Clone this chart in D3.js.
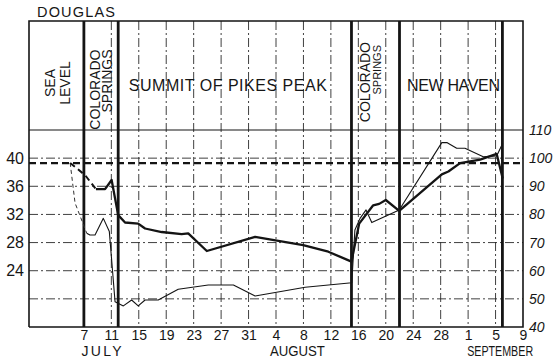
<!DOCTYPE html>
<html><head><meta charset="utf-8">
<script src="https://cdn.jsdelivr.net/npm/d3@7"></script>
<style>
html,body{margin:0;padding:0;background:#fff;}
svg{display:block;}
text{font-family:"Liberation Sans",Arial,sans-serif;fill:#161616;}
</style>
</head><body>
<svg id="chart" width="553" height="357"></svg>
<script>
// ---------------- DATA ----------------
const YEAR = 1911;
const title = "DOUGLAS";
const dateDomain = ["06-29 00", "09-09 00"];
const leftTicks = [24, 28, 32, 36, 40];
const leftDomain = [16, 44];
const rightTicks = [40, 50, 60, 70, 80, 90, 100, 110];
const rightDomain = [40, 110];
const gridRight = [50, 60, 70, 80, 90, 100];
const normalLevel = 98.2; // heavy dashed reference (right scale)

const tickDates = ["07-07 00","07-11 00","07-15 00","07-19 00","07-23 00","07-27 00","07-31 00",
  "08-04 00","08-08 00","08-12 00","08-16 00","08-20 00","08-24 00","08-28 00",
  "09-01 00","09-05 00","09-09 00"];
const tickLabels = ["7","11","15","19","23","27","31","4","8","12","16","20","24","28","1","5","9"];
const monthNames = ["JULY", "AUGUST", "SEPTEMBER"];
const monthAnchors = ["07-09 14", "08-07 03", "09-05 16"];

const regionBounds = ["06-29 00","07-07 00","07-12 00","08-15 00","08-22 00","09-06 00","09-09 00"];
const regionNames = ["SEA LEVEL", "COLORADO SPRINGS", "SUMMIT OF PIKES PEAK", "COLORADO SPRINGS", "NEW HAVEN"];

// heavy line (left scale)
const heavyDashedDates = ["07-05 00","07-07 04","07-08 18"];
const heavyDashedValues = [39.3, 37.6, 35.6];
const heavyDates = ["07-08 18","07-10 02","07-11 01","07-12 00","07-13 00","07-14 22","07-15 22",
  "07-18 08","07-21 06","07-22 05","07-24 22","07-31 23","08-07 23","08-11 15","08-15 00",
  "08-16 03","08-18 04","08-19 01","08-20 00","08-21 23","08-28 04","08-29 03","08-30 20",
  "09-02 18","09-05 04","09-06 01"];
const heavyValues = [35.6, 35.6, 36.9, 31.9, 30.85, 30.7, 30.0,
  29.5, 29.2, 29.3, 26.8, 28.8, 27.65, 26.7, 25.3,
  30.7, 33.3, 33.5, 34.05, 32.5, 37.7, 38.1, 39.3,
  39.8, 40.6, 37.1];

// thin line (right scale)
const thinDashedDates = ["07-05 00","07-05 17","07-07 10"];
const thinDashedValues = [98.3, 84.1, 73.3];
const thinDates = ["07-07 10","07-07 21","07-08 15","07-09 20","07-10 17","07-11 13","07-12 18",
  "07-13 23","07-14 22","07-15 22","07-17 20","07-20 18","07-25 03","07-28 19","07-31 23",
  "08-08 06","08-15 01","08-15 12","08-16 06","08-17 03","08-17 23","08-21 23","08-28 04",
  "08-28 23","08-30 08","08-31 13","09-03 05","09-05 04","09-06 01"];
const thinValues = [73.3, 72.7, 72.7, 78.6, 73.9, 49.0, 47.5,
  49.6, 47.5, 49.6, 49.6, 53.4, 54.9, 54.9, 51.0,
  54.1, 55.7, 74.5, 78.6, 81.6, 77.1, 81.6, 105.5,
  105.5, 103.5, 103.5, 100.5, 100.8, 105.3];

// ---------------- LAYOUT ----------------
const L = 29, R = 523, TOP = 21, PT = 130, B = 327;
const ink = "#141414";
const FONT = "Liberation Sans, Arial, sans-serif";
const parse = s => d3.timeParse("%Y-%m-%d %H")(`${YEAR}-${s}`);

const svg = d3.select("#chart");
svg.append("rect").attr("width", 553).attr("height", 357).attr("fill", "#fff");

const x = d3.scaleTime().domain(dateDomain.map(parse)).range([L, R]);
const yL = d3.scaleLinear().domain(leftDomain).range([B, PT]);
const yR = d3.scaleLinear().domain(rightDomain).range([B, PT]);

const grid = svg.append("g").attr("stroke", "#2a2a2a").attr("stroke-width", 0.9)
  .attr("stroke-dasharray", "9,3,2,3").attr("fill", "none");
grid.selectAll("line.v").data(tickDates.slice(1, -1)).join("line")
  .attr("x1", d => x(parse(d))).attr("x2", d => x(parse(d)))
  .attr("y1", TOP).attr("y2", B);
grid.selectAll("line.h").data(gridRight).join("line")
  .attr("x1", L).attr("x2", R)
  .attr("y1", d => yR(d)).attr("y2", d => yR(d));

svg.append("line").attr("x1", L).attr("x2", R)
  .attr("y1", yR(normalLevel)).attr("y2", yR(normalLevel))
  .attr("stroke", ink).attr("stroke-width", 2.2).attr("stroke-dasharray", "7,4");

const frame = svg.append("g").attr("stroke", ink).attr("fill", "none");
frame.append("path").attr("d", `M${L},${B}V${TOP}H${R}V${B}H${L}`).attr("stroke-width", 1.6);
frame.append("line").attr("x1", L).attr("x2", R).attr("y1", PT).attr("y2", PT).attr("stroke-width", 1.2);
frame.selectAll("line.r").data(regionBounds.slice(1, -1)).join("line")
  .attr("x1", d => x(parse(d))).attr("x2", d => x(parse(d)))
  .attr("y1", TOP).attr("y2", B).attr("stroke-width", 2.8);

const lineL = d3.line().x(d => x(d[0])).y(d => yL(d[1]));
const lineR = d3.line().x(d => x(d[0])).y(d => yR(d[1]));
const zipd = (ds, vs) => ds.map((d, i) => [parse(d), vs[i]]);

svg.append("path").datum(zipd(thinDashedDates, thinDashedValues)).attr("d", lineR)
  .attr("fill", "none").attr("stroke", "#333").attr("stroke-width", 1).attr("stroke-dasharray", "4,3");
svg.append("path").datum(zipd(thinDates, thinValues)).attr("d", lineR)
  .attr("fill", "none").attr("stroke", ink).attr("stroke-width", 1.1).attr("stroke-linejoin", "round");
svg.append("path").datum(zipd(heavyDashedDates, heavyDashedValues)).attr("d", lineL)
  .attr("fill", "none").attr("stroke", ink).attr("stroke-width", 2).attr("stroke-dasharray", "6,4");
svg.append("path").datum(zipd(heavyDates, heavyValues)).attr("d", lineL)
  .attr("fill", "none").attr("stroke", ink).attr("stroke-width", 2.3).attr("stroke-linejoin", "round");

// axes
const axL = svg.append("g").attr("transform", `translate(${L},0)`)
  .call(d3.axisLeft(yL).tickValues(leftTicks).tickSize(0).tickPadding(5));
axL.select(".domain").remove();
axL.selectAll("text").attr("font-size", 16).attr("fill", ink).attr("font-family", FONT);

const axR = svg.append("g").attr("transform", `translate(${R},0)`)
  .call(d3.axisRight(yR).tickValues(rightTicks).tickSize(0).tickPadding(6));
axR.select(".domain").remove();
axR.selectAll("text").attr("font-size", 14).attr("font-style", "italic").attr("fill", ink)
  .attr("font-family", FONT);

const axB = svg.append("g").attr("transform", `translate(0,${B})`)
  .call(d3.axisBottom(x).tickValues(tickDates.map(parse)).tickSize(0).tickPadding(3)
    .tickFormat((d, i) => tickLabels[i]));
axB.select(".domain").remove();
axB.selectAll("text").attr("font-size", 14).attr("fill", ink).attr("font-family", FONT);

// month labels
const monthWidths = [40, 55, 66];
const monthAdjust = ["spacing", "spacingAndGlyphs", "spacingAndGlyphs"];
svg.selectAll("text.month").data(monthNames).join("text")
  .attr("x", (d, i) => x(parse(monthAnchors[i]))).attr("y", 355.5)
  .attr("text-anchor", "middle").attr("font-size", 14)
  .attr("textLength", (d, i) => monthWidths[i]).attr("lengthAdjust", (d, i) => monthAdjust[i])
  .text(d => d);

// title
svg.append("text").attr("x", 37).attr("y", 16.5).attr("font-size", 14.5)
  .attr("textLength", 78).attr("lengthAdjust", "spacing").text(title);

// region labels
const mid = i => (x(parse(regionBounds[i])) + x(parse(regionBounds[i + 1]))) / 2;
regionNames[0].split(" ").forEach((t, k) => {
  svg.append("text").attr("transform", `translate(${mid(0) - 1.5 + k * 15},83) rotate(-90)`)
    .attr("text-anchor", "middle").attr("font-size", 14).text(t);
});
regionNames[1].split(" ").forEach((t, k) => {
  svg.append("text").attr("transform", `translate(${mid(1) - 1 + k * 11.7},49.5) rotate(-90)`)
    .attr("text-anchor", "end").attr("font-size", 14).text(t);
});
svg.append("text").attr("x", mid(2) - 7).attr("y", 91).attr("text-anchor", "middle")
  .attr("font-size", 16).attr("textLength", 198).attr("lengthAdjust", "spacing").text(regionNames[2]);
regionNames[3].split(" ").forEach((t, k) => {
  svg.append("text").attr("transform", `translate(${mid(3) - 5.4 + k * 10.5},${k ? 45 : 42}) rotate(-90)`)
    .attr("text-anchor", "end").attr("font-size", k ? 11 : 14).text(t);
});
svg.append("text").attr("x", mid(4) + 2.5).attr("y", 91).attr("text-anchor", "middle")
  .attr("font-size", 16).attr("textLength", 93).attr("lengthAdjust", "spacing").text(regionNames[4]);
</script>
</body></html>
